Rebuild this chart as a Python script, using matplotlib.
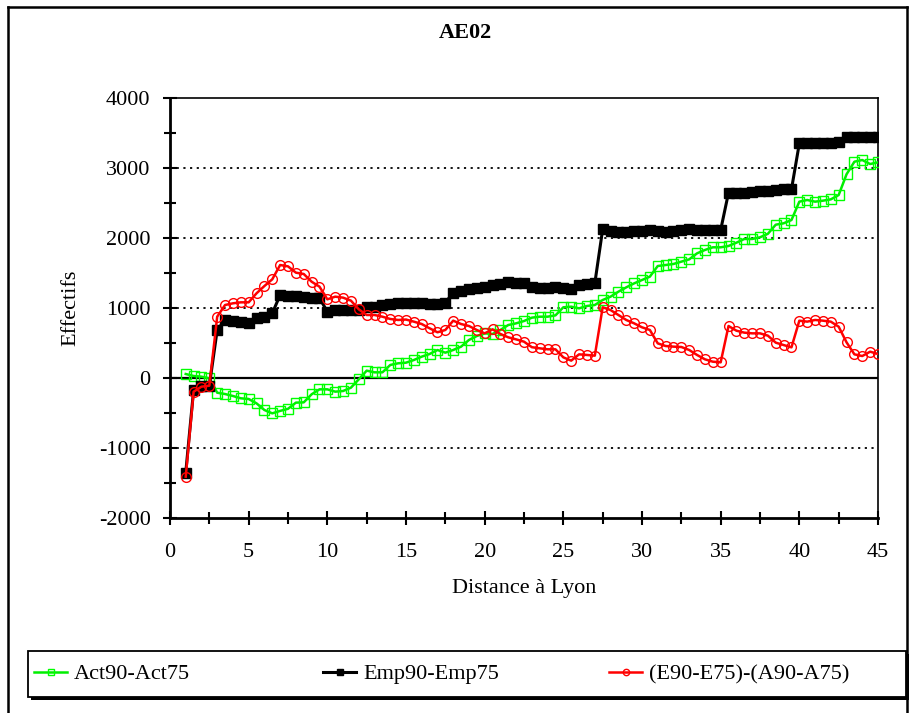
import matplotlib
matplotlib.use("Agg")
import matplotlib.pyplot as plt
from matplotlib.lines import Line2D
from matplotlib.patches import Rectangle
from matplotlib.ticker import MultipleLocator

plt.rcParams['font.family'] = ['Liberation Serif', 'DejaVu Serif']
plt.rcParams['axes.unicode_minus'] = False

distance = [1.0, 1.5, 2.0, 2.5, 3.0, 3.5, 4.0, 4.5, 5.0, 5.5, 6.0, 6.5, 7.0, 7.5, 8.0, 8.5,
            9.0, 9.5, 10.0, 10.5, 11.0, 11.5, 12.0, 12.5, 13.0, 13.5, 14.0, 14.5, 15.0, 15.5,
            16.0, 16.5, 17.0, 17.5, 18.0, 18.5, 19.0, 19.5, 20.0, 20.5, 21.0, 21.5, 22.0, 22.5,
            23.0, 23.5, 24.0, 24.5, 25.0, 25.5, 26.0, 26.5, 27.0, 27.5, 28.0, 28.5, 29.0, 29.5,
            30.0, 30.5, 31.0, 31.5, 32.0, 32.5, 33.0, 33.5, 34.0, 34.5, 35.0, 35.5, 36.0, 36.5,
            37.0, 37.5, 38.0, 38.5, 39.0, 39.5, 40.0, 40.5, 41.0, 41.5, 42.0, 42.5, 43.0, 43.5,
            44.0, 44.5, 45.0]

act = [57, 29, 19, -5, -210, -229, -257, -290, -300, -362, -457, -505, -470, -440, -352, -348,
       -233, -162, -162, -195, -186, -138, -19, 105, 81, 81, 186, 210, 219, 257,
       305, 343, 400, 362, 400, 448, 543, 600, 638, 629, 686, 757, 781, 814,
       862, 876, 876, 895, 1010, 1019, 995, 1029, 1043, 1114, 1162, 1233, 1295, 1352,
       1400, 1448, 1600, 1614, 1629, 1662, 1695, 1781, 1829, 1867, 1867, 1886, 1933, 1986,
       1986, 2010, 2060, 2190, 2210, 2257, 2519, 2543, 2519, 2533, 2552, 2614, 2910, 3090,
       3114, 3057, 3081]

emp = [-1353, -175, -120, -110, 686, 829, 819, 800, 790, 857, 871, 924, 1186, 1171, 1165, 1160,
       1150, 1143, 948, 967, 967, 967, 971, 1010, 1020, 1043, 1055, 1067, 1076, 1076,
       1070, 1057, 1060, 1076, 1219, 1240, 1267, 1290, 1300, 1329, 1340, 1367, 1362, 1352,
       1295, 1290, 1290, 1300, 1290, 1267, 1329, 1340, 1352, 2124, 2105, 2090, 2090, 2095,
       2105, 2114, 2105, 2090, 2095, 2110, 2124, 2118, 2114, 2110, 2114, 2648, 2640, 2638,
       2662, 2670, 2676, 2690, 2695, 2695, 3352, 3352, 3352, 3355, 3360, 3367, 3448, 3445,
       3442, 3440, 3438]

diff = [-1410, -196, -124, -110, 876, 1043, 1067, 1081, 1081, 1210, 1314, 1410, 1614, 1595, 1505, 1486,
        1376, 1305, 1124, 1162, 1148, 1105, 981, 900, 900, 876, 843, 829, 835, 805,
        771, 710, 653, 686, 819, 771, 743, 686, 638, 695, 629, 581, 552, 519,
        440, 424, 410, 410, 295, 248, 338, 329, 319, 1010, 971, 900, 829, 781,
        724, 686, 495, 457, 448, 443, 400, 329, 267, 233, 224, 743, 676, 648,
        638, 638, 605, 505, 471, 438, 819, 805, 829, 819, 805, 733, 510, 338,
        314, 376, 343]

labels = ["Act90-Act75", "Emp90-Emp75", "(E90-E75)-(A90-A75)"]

W, H = 916, 713
fig = plt.figure(figsize=(W/100, H/100), dpi=100)
ax = fig.add_axes([170/W, 1-518/H, (878-170)/W, (518-98)/H])

l1, = ax.plot(distance, act, color='#00ee00', lw=1.8, marker='s', ms=7,
              mfc='none', mec='#00ff00', mew=1.0, label=labels[0], zorder=3)
l2, = ax.plot(distance, emp, color='black', lw=2.2, marker='s', ms=7.5,
              mfc='black', mec='black', label=labels[1], zorder=4)
l3, = ax.plot(distance, diff, color='#ff0000', lw=1.8, marker='o', ms=7,
              mfc='none', mec='#ff0000', mew=1.0, label=labels[2], zorder=5)

ax.set_xlim(0, 45)
ax.set_ylim(-2000, 4000)
ax.xaxis.set_major_locator(MultipleLocator(5))
ax.xaxis.set_minor_locator(MultipleLocator(2.5))
ax.yaxis.set_major_locator(MultipleLocator(1000))
ax.yaxis.set_minor_locator(MultipleLocator(500))
ax.tick_params(axis='both', which='major', direction='inout', length=10, width=1.5,
               labelsize=16, top=False, right=False)
ax.tick_params(axis='both', which='minor', direction='inout', length=8, width=1.5,
               top=False, right=False)
ax.tick_params(axis='x', which='major', pad=13)
ax.tick_params(axis='y', which='major', pad=9)
for s in ax.spines.values():
    s.set_linewidth(1.2)
ax.spines['left'].set_linewidth(2)
ax.spines['bottom'].set_linewidth(2)

for yv in [-1000, 1000, 2000, 3000]:
    ax.axhline(yv, color='black', lw=1.3, ls=(0, (1.2, 2.5)), zorder=1)
ax.axhline(0, color='black', lw=1.6, zorder=1)

fig.text(465/W, 1-33/H, "AE02", fontsize=16, fontweight='bold', ha='center', va='center')
ax.set_xlabel("Distance à Lyon", fontsize=16, labelpad=12)
ax.set_ylabel("Effectifs", fontsize=16, labelpad=13)

# legend frame with shadow
lx0, ly0, lw_, lh_ = 28/W, 1-697/H, (906-28)/W, 46/H
fig.add_artist(Rectangle((lx0 + 3/W, ly0 - 3/H), lw_, lh_, transform=fig.transFigure,
                         facecolor='black', edgecolor='black', lw=0, zorder=1))
fig.add_artist(Rectangle((lx0, ly0), lw_, lh_, transform=fig.transFigure,
                         facecolor='white', edgecolor='black', lw=1.3, zorder=2))
for handle, lab, xpx in zip([l1, l2, l3], labels, [34, 323, 609]):
    lg = fig.legend(handles=[handle], labels=[lab], loc='center left',
                    bbox_to_anchor=(xpx/W, 1-674/H), fontsize=16, frameon=False,
                    handlelength=1.5, handletextpad=0.3, borderpad=0, borderaxespad=0,
                    markerscale=0.65)
    lg.set_zorder(3)

# outer frame
fx0, fx1, fy1 = 8/W, 907/W, 1-7/H
for xs, ys in [([fx0, fx0], [0, fy1]), ([fx0, fx1], [fy1, fy1]), ([fx1, fx1], [0, fy1])]:
    fig.add_artist(Line2D(xs, ys, color='black', lw=1.8, transform=fig.transFigure))

fig.savefig("out.png", dpi=100)
